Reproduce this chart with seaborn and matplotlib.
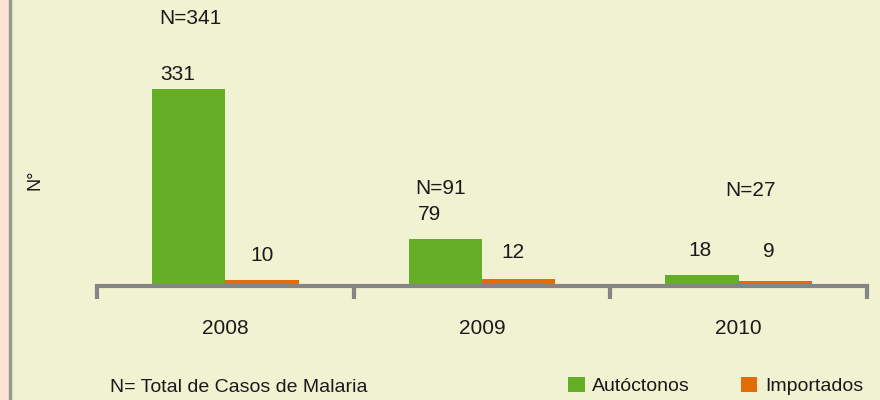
import pandas as pd
import seaborn as sns
import matplotlib.pyplot as plt
from matplotlib.patches import Rectangle
from matplotlib.lines import Line2D

# Casos de malaria por año
years = ['2008', '2009', '2010']
autoctonos = [331, 79, 18]
importados = [10, 12, 9]
totals = ['N=341', 'N=91', 'N=27']
series_names = ['Autóctonos', 'Importados']

df = pd.DataFrame({
    'year': years * 2,
    'casos': autoctonos + importados,
    'tipo': [series_names[0]] * 3 + [series_names[1]] * 3,
})

bg = '#F0F2D2'
green = '#66AE26'
orange = '#E36C0A'
axis_gray = '#858585'
txt = '#1a1a1a'
fs = 15

sns.set_theme(style='white')
plt.rcParams['font.family'] = ['Liberation Sans', 'DejaVu Sans']

fig = plt.figure(figsize=(8.8, 4), dpi=100, facecolor=bg)
ax = fig.add_axes([97 / 880, 1 - 286 / 400, 770 / 880, 286 / 400])
ax.set_facecolor(bg)

sns.barplot(data=df, x='year', y='casos', hue='tipo', hue_order=series_names,
            palette=[green, orange], width=0.572, saturation=1, ax=ax,
            edgecolor='none')

ax.set_xlim(-0.5, 2.5)
ax.set_ylim(0, 480)

for s in ['top', 'right', 'left']:
    ax.spines[s].set_visible(False)
ax.spines['bottom'].set_color(axis_gray)
ax.spines['bottom'].set_linewidth(3)
ax.set_yticks([])
ax.set_xlabel('')
ax.set_ylabel('')

ax.set_xticks(range(len(years)))
ax.set_xticklabels(years, fontsize=fs, color=txt)
ax.set_xticks([-0.5, 0.5, 1.5, 2.5], minor=True)
ax.tick_params(axis='x', which='major', length=0, pad=24)
ax.tick_params(axis='x', which='minor', length=9, width=3, color=axis_gray,
               direction='out', bottom=True)

# value labels (pixel nudges to follow the original placement)
bar_off = 0.143
green_dx = [-11, -16, -2]
orange_dx = [0, -6, -7]
green_dy = [14, 24, 25]
orange_dy = [25, 26, 29]
for i in range(len(years)):
    ax.annotate(str(autoctonos[i]), (i - bar_off, autoctonos[i]),
                xytext=(green_dx[i], green_dy[i]), textcoords='offset pixels',
                ha='center', va='center', fontsize=fs, color=txt)
    ax.annotate(str(importados[i]), (i + bar_off, importados[i]),
                xytext=(orange_dx[i], orange_dy[i]), textcoords='offset pixels',
                ha='center', va='center', fontsize=fs, color=txt)

# totals
n_dx = [-0.136, -0.16, 0.047]
n_y = [19, 189, 190]
for i in range(len(years)):
    ax.text(i + n_dx[i], 1 - n_y[i] / 286, totals[i], transform=ax.get_xaxis_transform(),
            ha='center', va='center', fontsize=fs, color=txt)

fig.text(35 / 880, 1 - 180 / 400, 'N°', rotation=90, ha='center', va='center',
         fontsize=13, color=txt)
fig.text(110 / 880, 1 - 388 / 400, 'N= Total de Casos de Malaria', ha='left',
         va='center', fontsize=14, color=txt)

sns.move_legend(ax, loc='center left', bbox_to_anchor=(568 / 880, 1 - 386 / 400),
                bbox_transform=fig.transFigure, ncol=2, frameon=False, title=None,
                fontsize=14, handlelength=0.85, handleheight=0.85,
                handletextpad=0.4, columnspacing=2.6, borderpad=0, borderaxespad=0)
for t in ax.get_legend().get_texts():
    t.set_color(txt)

# left border strip
fig.patches.append(Rectangle((0, 0), 8 / 880, 1, transform=fig.transFigure,
                             facecolor='#FDE4D2', edgecolor='none', zorder=0))
fig.lines.append(Line2D([10 / 880, 10 / 880], [0, 1], transform=fig.transFigure,
                        color='#9A9A8C', linewidth=2.5))

fig.savefig('out.png', dpi=100, facecolor=bg)
